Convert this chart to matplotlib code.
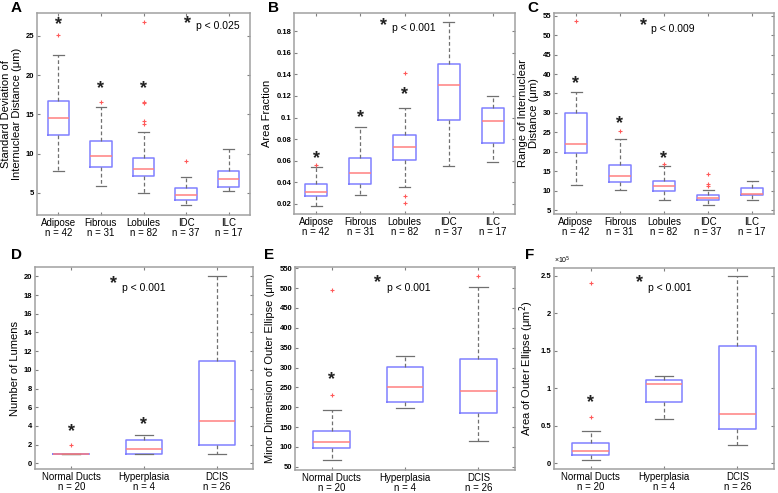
import numpy as np
import matplotlib
matplotlib.use('Agg')
import matplotlib.pyplot as plt

plt.rcParams['font.family'] = ['Liberation Sans', 'DejaVu Sans']

# ---- data ----
top_groups = ['Adipose', 'Fibrous', 'Lobules', 'IDC', 'ILC']
top_n = [42, 31, 82, 37, 17]
bot_groups = ['Normal Ducts', 'Hyperplasia', 'DCIS']
bot_n = [20, 4, 26]

# each row: whisker low, q1, median, q3, whisker high
sd_stats = [[7.8, 12.4, 14.5, 16.7, 22.6],
            [5.9, 8.3, 9.7, 11.6, 15.9],
            [5.0, 7.2, 8.1, 9.5, 12.7],
            [3.5, 4.1, 4.8, 5.6, 7.0],
            [5.2, 5.7, 6.8, 7.8, 10.6]]
sd_fliers = [[25.1], [16.6], [13.8, 14.2, 16.5, 16.6, 26.8], [9.1], []]
sd_stars = [26.9, 18.8, 18.8, None, None]

af_stats = [[0.018, 0.027, 0.031, 0.038, 0.054],
            [0.028, 0.038, 0.049, 0.062, 0.091],
            [0.036, 0.061, 0.073, 0.084, 0.109],
            [0.055, 0.098, 0.130, 0.150, 0.189],
            [0.059, 0.076, 0.097, 0.109, 0.120]]
af_fliers = [[0.056], [], [0.141, 0.027, 0.021], [], []]
af_stars = [0.066, 0.104, 0.125, None, None]

rg_stats = [[11.5, 19.8, 22.0, 30.0, 35.4],
            [10.3, 12.2, 13.9, 16.6, 23.2],
            [7.5, 9.8, 11.3, 12.6, 16.3],
            [6.3, 7.5, 8.1, 8.8, 10.3],
            [7.6, 8.8, 9.1, 10.6, 12.4]]
rg_fliers = [[53.7], [25.3], [16.9], [14.2, 11.6, 11.1], []]
rg_stars = [38.7, 28.2, 19.4, None, None]

lum_stats = [[1.0, 1.0, 1.0, 1.0, 1.0],
             [1.0, 1.0, 1.5, 2.5, 3.0],
             [1.0, 2.0, 4.5, 11.0, 20.0]]
lum_fliers = [[2.0], [], []]
lum_stars = [3.8, 4.6, None]

mn_stats = [[67, 98, 112, 139, 192],
            [197, 212, 252, 302, 328],
            [114, 185, 240, 322, 502]]
mn_fliers = [[496, 232], [], [530]]
mn_stars = [280, None, None]

ar_stats = [[0.04, 0.11, 0.17, 0.27, 0.43],
            [0.59, 0.82, 1.05, 1.11, 1.16],
            [0.24, 0.45, 0.65, 1.56, 2.49]]
ar_fliers = [[2.40, 0.62], [], []]
ar_stars = [0.87, None, None]

panels = [
    dict(letter='A', rect=[37, 13, 250, 215], lpos=(11, 8), groups=top_groups, n=top_n,
         stats=sd_stats, fliers=sd_fliers, stars=sd_stars, ylim=(2.2, 27.9),
         yticks=[5, 10, 15, 20, 25], ylabel='Standard Deviation of\nInternuclear Distance (\u03bcm)',
         p='p < 0.025', pstar=(188, 22), ptext=(196, 26)),
    dict(letter='B', rect=[294, 13, 515, 214], lpos=(268, 8), groups=top_groups, n=top_n,
         stats=af_stats, fliers=af_fliers, stars=af_stars, ylim=(0.0105, 0.197),
         yticks=[0.02, 0.04, 0.06, 0.08, 0.1, 0.12, 0.14, 0.16, 0.18], ylabel='Area Fraction',
         p='p < 0.001', pstar=(384, 24), ptext=(392, 28)),
    dict(letter='C', rect=[554, 13, 774, 214], lpos=(527, 8), groups=top_groups, n=top_n,
         stats=rg_stats, fliers=rg_fliers, stars=rg_stars, ylim=(4.0, 55.7),
         yticks=list(range(5, 60, 5)), ylabel='Range of Internuclear\nDistance (\u03bcm)',
         p='p < 0.009', pstar=(643, 24), ptext=(651, 29)),
    dict(letter='D', rect=[35, 267, 253, 469], lpos=(11, 255), groups=bot_groups, n=bot_n,
         stats=lum_stats, fliers=lum_fliers, stars=lum_stars, ylim=(-0.6, 21.0),
         yticks=list(range(0, 22, 2)), ylabel='Number of Lumens',
         p='p < 0.001', pstar=(114, 282), ptext=(122, 288)),
    dict(letter='E', rect=[295, 267, 515, 470], lpos=(264, 255), groups=bot_groups, n=bot_n,
         stats=mn_stats, fliers=mn_fliers, stars=mn_stars, ylim=(42, 553),
         yticks=list(range(50, 600, 50)), ylabel='Minor Dimension of Outer Ellipse (\u03bcm)',
         p='p < 0.001', pstar=(378, 281), ptext=(387, 288)),
    dict(letter='F', rect=[554, 268, 774, 469], lpos=(525, 255), groups=bot_groups, n=bot_n,
         stats=ar_stats, fliers=ar_fliers, stars=ar_stars, ylim=(-0.076, 2.6),
         yticks=[0, 0.5, 1, 1.5, 2, 2.5], ylabel='Area of Outer Ellipse (\u03bcm$^2$)',
         p='p < 0.001', pstar=(639, 281), ptext=(648, 288)),
]

W, H = 778, 493
fig = plt.figure(figsize=(W / 100, H / 100), dpi=100)

box_c = '#8080ff'
med_c = '#ff8080'
wh_c = '#707070'
frame_c = '#a0a0a0'


def fx(px):
    return px / W


def fy(py):
    return 1 - py / H


for pn in panels:
    x0, y0, x1, y1 = pn['rect']
    ax = fig.add_axes([fx(x0), fy(y1), (x1 - x0) / W, (y1 - y0) / H])
    bstats = []
    for i, (s, fl) in enumerate(zip(pn['stats'], pn['fliers'])):
        bstats.append(dict(whislo=s[0], q1=s[1], med=s[2], q3=s[3], whishi=s[4],
                           fliers=fl, label=f"{pn['groups'][i]}\nn = {pn['n'][i]}"))
    ax.bxp(bstats, widths=0.5, showfliers=True,
           boxprops=dict(color=box_c, linewidth=1.1),
           medianprops=dict(color=med_c, linewidth=1.1),
           whiskerprops=dict(color=wh_c, linestyle=(0, (3, 2)), linewidth=0.9),
           capprops=dict(color=wh_c, linewidth=0.9),
           flierprops=dict(marker='+', markeredgecolor='#ff5a5a', markersize=3.5, markeredgewidth=0.8))
    # asterisks: glyph sits high in its box, so anchor a bit lower
    for i, st in enumerate(pn['stars']):
        if st is not None:
            ax.annotate('*', (i + 1, st), xytext=(0, -3), textcoords='offset points',
                        ha='center', va='center', fontsize=13, fontweight='bold', color='#222222')
    sx, sy = pn['pstar']
    fig.text(fx(sx), fy(sy + 2), '*', ha='center', va='center', fontsize=13,
             fontweight='bold', color='#222222')
    tx, ty = pn['ptext']
    fig.text(fx(tx), fy(ty), pn['p'], ha='left', va='center', fontsize=7.5)
    ax.set_xlim(0.5, len(pn['groups']) + 0.5)
    ax.set_ylim(*pn['ylim'])
    ax.set_yticks(pn['yticks'])
    ax.set_yticklabels([f'{v:g}' for v in pn['yticks']])
    for lab in ax.get_xticklabels():
        lab.set_linespacing(1.05)
    ax.tick_params(axis='y', direction='in', length=2.5, labelsize=5.5, right=True,
                   color='#808080', pad=2)
    ax.tick_params(axis='x', direction='in', length=2, labelsize=7, top=True,
                   color='#808080', pad=2)
    for lab in ax.get_yticklabels():
        lab.set_fontweight('bold')
    for sp in ax.spines.values():
        sp.set_color(frame_c)
        sp.set_linewidth(1.1)
    ax.set_ylabel(pn['ylabel'], fontsize=8, labelpad=3, linespacing=1.05)
    lx, ly = pn['lpos']
    fig.text(fx(lx), fy(ly), pn['letter'], fontsize=11, fontweight='bold',
             va='center', ha='left')
    if pn['letter'] == 'F':
        ax.text(0.0, 1.01, '\u00d710$^5$', transform=ax.transAxes, fontsize=5, va='bottom')

fig.savefig('out.png', dpi=100)
